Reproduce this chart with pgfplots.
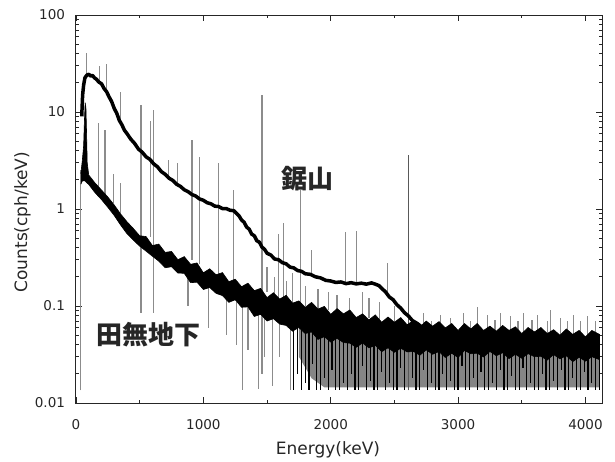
\documentclass[border=0pt]{standalone}
\usepackage{pgfplots}
\pgfplotsset{compat=1.18}
\usepackage{fontspec}
\setmainfont{DejaVu Sans}
\newfontfamily\cjk{Noto Sans CJK JP}
\begin{document}
\begin{tikzpicture}
\begin{axis}[
  scale only axis, width=526pt, height=388pt,
  xmin=0, xmax=4130, ymode=log, ymin=0.01, ymax=100,
  xtick={0,1000,2000,3000,4000}, xticklabels={0,1000,2000,3000,4000},
  minor xtick={500,1500,2500,3500},
  ytick={0.01,0.1,1,10,100}, yticklabels={0.01,0.1,1,10,100},
  minor ytick={0.02,0.03,0.04,0.05,0.06,0.07,0.08,0.09,0.2,0.3,0.4,0.5,0.6,0.7,0.8,0.9,2,3,4,5,6,7,8,9,20,30,40,50,60,70,80,90},
  tick align=inside, major tick length=6pt, minor tick length=3.5pt,
  axis line style={line width=1pt, black!85},
  every tick/.style={black!85, line width=0.8pt},
  tick label style={font=\fontsize{13.5}{16}\selectfont, text=black!85},
  xticklabel style={yshift=-12.5pt}, yticklabel style={xshift=-7.5pt},
  xlabel={Energy(keV)}, ylabel={Counts(cph/keV)},
  label style={font=\fontsize{17}{20}\selectfont, text=black!85},
  xlabel style={at={(axis description cs:0.479,-0.121)},anchor=center},
  ylabel style={at={(axis description cs:-0.1017,0.466)},anchor=center},
  unbounded coords=jump,
]
% gray under-band region
\addplot[fill=black!48, draw=none] coordinates {
(1750,0.065) (2000,0.05) (2400,0.045) (4110,0.04)
(4110,0.0145) (1950,0.0145) (1850,0.018) (1750,0.03)};
% gray peak / dip lines
\addplot[black!45, line width=1.2pt] table[row sep=\\] {
x y\\
84 24\\ 84 41\\ 84 nan\\
186 20\\ 186 30\\ 186 nan\\
238 16.5\\ 238 31\\ 238 nan\\
352 7.8\\ 352 16\\ 352 nan\\
511 0.085\\ 511 11.8\\ 511 nan\\
583 0.52\\ 583 8\\ 583 nan\\
609 0.085\\ 609 10.5\\ 609 nan\\
727 2.15\\ 727 3.2\\ 727 nan\\
795 1.8\\ 795 3.0\\ 795 nan\\
911 0.3\\ 911 5.1\\ 911 nan\\
969 0.27\\ 969 3.4\\ 969 nan\\
1120 0.21\\ 1120 3.0\\ 1120 nan\\
1238 0.18\\ 1238 1.57\\ 1238 nan\\
1461 0.02\\ 1461 15\\ 1461 nan\\
1588 0.11\\ 1588 0.55\\ 1588 nan\\
1630 0.1\\ 1630 0.72\\ 1630 nan\\
1764 0.09\\ 1764 1.57\\ 1764 nan\\
1847 0.21\\ 1847 0.38\\ 1847 nan\\
2118 0.173\\ 2118 0.58\\ 2118 nan\\
2204 0.171\\ 2204 0.6\\ 2204 nan\\
2448 0.13\\ 2448 0.28\\ 2448 nan\\
35 0.0135\\ 35 2.5\\ 35 nan\\
175 1.7\\ 175 7.7\\ 175 nan\\
228 1.4\\ 228 6.5\\ 228 nan\\
295 1.15\\ 295 2.3\\ 295 nan\\
352 0.92\\ 352 1.85\\ 352 nan\\
880 0.2\\ 880 0.1\\ 880 nan\\
1040 0.16\\ 1040 0.06\\ 1040 nan\\
1180 0.12\\ 1180 0.05\\ 1180 nan\\
1260 0.11\\ 1260 0.04\\ 1260 nan\\
1305 0.1\\ 1305 0.0135\\ 1305 nan\\
1350 0.1\\ 1350 0.035\\ 1350 nan\\
1431 0.085\\ 1431 0.014\\ 1431 nan\\
1480 0.08\\ 1480 0.03\\ 1480 nan\\
1540 0.075\\ 1540 0.015\\ 1540 nan\\
1600 0.07\\ 1600 0.03\\ 1600 nan\\
1682 0.062\\ 1682 0.0135\\ 1682 nan\\
1500 0.14\\ 1500 0.25\\ 1500 nan\\
1560 0.13\\ 1560 0.2\\ 1560 nan\\
1650 0.11\\ 1650 0.18\\ 1650 nan\\
1700 0.1\\ 1700 0.22\\ 1700 nan\\
1800 0.1\\ 1800 0.16\\ 1800 nan\\
1900 0.09\\ 1900 0.15\\ 1900 nan\\
1980 0.09\\ 1980 0.14\\ 1980 nan\\
2050 0.085\\ 2050 0.13\\ 2050 nan\\
2150 0.08\\ 2150 0.12\\ 2150 nan\\
2250 0.075\\ 2250 0.14\\ 2250 nan\\
2300 0.075\\ 2300 0.12\\ 2300 nan\\
2380 0.07\\ 2380 0.11\\ 2380 nan\\
2500 0.068\\ 2500 0.1\\ 2500 nan\\
2728 0.05\\ 2728 0.085\\ 2728 nan\\
2790 0.05\\ 2790 0.07\\ 2790 nan\\
2862 0.05\\ 2862 0.08\\ 2862 nan\\
2940 0.05\\ 2940 0.075\\ 2940 nan\\
3042 0.05\\ 3042 0.085\\ 3042 nan\\
3100 0.05\\ 3100 0.07\\ 3100 nan\\
3152 0.05\\ 3152 0.098\\ 3152 nan\\
3230 0.05\\ 3230 0.08\\ 3230 nan\\
3290 0.05\\ 3290 0.072\\ 3290 nan\\
3333 0.05\\ 3333 0.085\\ 3333 nan\\
3412 0.05\\ 3412 0.078\\ 3412 nan\\
3470 0.05\\ 3470 0.07\\ 3470 nan\\
3514 0.05\\ 3514 0.085\\ 3514 nan\\
3580 0.05\\ 3580 0.072\\ 3580 nan\\
3624 0.05\\ 3624 0.08\\ 3624 nan\\
3700 0.05\\ 3700 0.07\\ 3700 nan\\
3726 0.05\\ 3726 0.09\\ 3726 nan\\
3805 0.05\\ 3805 0.075\\ 3805 nan\\
3860 0.05\\ 3860 0.07\\ 3860 nan\\
3907 0.05\\ 3907 0.08\\ 3907 nan\\
3960 0.05\\ 3960 0.07\\ 3960 nan\\
4017 0.05\\ 4017 0.078\\ 4017 nan\\
4080 0.05\\ 4080 0.07\\ 4080 nan\\
};
\addplot[black!65, line width=1.1pt] table[row sep=\\] {
x y\\
2614 0.0135\\ 2614 3.6\\ 2614 nan\\
};
% black stripes below the band
\addplot[black, line width=1.2pt] table[row sep=\\] {
x y\\
1710 .065\\ 1710 .0135\\ 1710 nan\\
1740 .065\\ 1740 .02\\ 1740 nan\\
1770 .065\\ 1770 .0135\\ 1770 nan\\
1800 .065\\ 1800 .016\\ 1800 nan\\
1830 .065\\ 1830 .0135\\ 1830 nan\\
1860 .065\\ 1860 .025\\ 1860 nan\\
1890 .065\\ 1890 .0135\\ 1890 nan\\
1920 .065\\ 1920 .0135\\ 1920 nan\\
1950 .065\\ 1950 .018\\ 1950 nan\\
1980 .065\\ 1980 .0135\\ 1980 nan\\
2010 .05\\ 2010 .022\\ 2010 nan\\
2040 .05\\ 2040 .0135\\ 2040 nan\\
2070 .05\\ 2070 .0135\\ 2070 nan\\
2100 .05\\ 2100 .016\\ 2100 nan\\
2130 .05\\ 2130 .0135\\ 2130 nan\\
2160 .05\\ 2160 .02\\ 2160 nan\\
2190 .05\\ 2190 .0135\\ 2190 nan\\
2220 .05\\ 2220 .0135\\ 2220 nan\\
2250 .05\\ 2250 .024\\ 2250 nan\\
2280 .05\\ 2280 .0135\\ 2280 nan\\
2310 .05\\ 2310 .017\\ 2310 nan\\
2340 .05\\ 2340 .0135\\ 2340 nan\\
2370 .05\\ 2370 .0135\\ 2370 nan\\
2400 .045\\ 2400 .021\\ 2400 nan\\
2430 .045\\ 2430 .0135\\ 2430 nan\\
2460 .045\\ 2460 .016\\ 2460 nan\\
2490 .045\\ 2490 .0135\\ 2490 nan\\
2520 .045\\ 2520 .0135\\ 2520 nan\\
2550 .045\\ 2550 .023\\ 2550 nan\\
2580 .045\\ 2580 .0135\\ 2580 nan\\
2640 .045\\ 2640 .018\\ 2640 nan\\
2670 .045\\ 2670 .0135\\ 2670 nan\\
2700 .045\\ 2700 .0135\\ 2700 nan\\
2730 .045\\ 2730 .022\\ 2730 nan\\
2760 .045\\ 2760 .0135\\ 2760 nan\\
2790 .045\\ 2790 .016\\ 2790 nan\\
2820 .045\\ 2820 .0135\\ 2820 nan\\
2850 .045\\ 2850 .0135\\ 2850 nan\\
2880 .045\\ 2880 .02\\ 2880 nan\\
2910 .045\\ 2910 .0135\\ 2910 nan\\
2940 .045\\ 2940 .017\\ 2940 nan\\
2970 .045\\ 2970 .0135\\ 2970 nan\\
3000 .045\\ 3000 .0135\\ 3000 nan\\
3030 .045\\ 3030 .024\\ 3030 nan\\
3060 .045\\ 3060 .0135\\ 3060 nan\\
3090 .045\\ 3090 .0135\\ 3090 nan\\
3120 .045\\ 3120 .018\\ 3120 nan\\
3150 .045\\ 3150 .0135\\ 3150 nan\\
3180 .045\\ 3180 .021\\ 3180 nan\\
3210 .045\\ 3210 .0135\\ 3210 nan\\
3240 .045\\ 3240 .0135\\ 3240 nan\\
3270 .045\\ 3270 .016\\ 3270 nan\\
3300 .045\\ 3300 .0135\\ 3300 nan\\
3330 .045\\ 3330 .022\\ 3330 nan\\
3360 .045\\ 3360 .0135\\ 3360 nan\\
3390 .045\\ 3390 .0135\\ 3390 nan\\
3420 .045\\ 3420 .019\\ 3420 nan\\
3450 .045\\ 3450 .0135\\ 3450 nan\\
3480 .045\\ 3480 .0135\\ 3480 nan\\
3510 .045\\ 3510 .023\\ 3510 nan\\
3540 .045\\ 3540 .0135\\ 3540 nan\\
3570 .045\\ 3570 .016\\ 3570 nan\\
3600 .045\\ 3600 .0135\\ 3600 nan\\
3630 .045\\ 3630 .0135\\ 3630 nan\\
3660 .045\\ 3660 .02\\ 3660 nan\\
3690 .045\\ 3690 .0135\\ 3690 nan\\
3720 .045\\ 3720 .0135\\ 3720 nan\\
3750 .045\\ 3750 .017\\ 3750 nan\\
3780 .045\\ 3780 .0135\\ 3780 nan\\
3810 .045\\ 3810 .022\\ 3810 nan\\
3840 .045\\ 3840 .0135\\ 3840 nan\\
3870 .045\\ 3870 .0135\\ 3870 nan\\
3900 .045\\ 3900 .018\\ 3900 nan\\
3930 .045\\ 3930 .0135\\ 3930 nan\\
3960 .045\\ 3960 .0135\\ 3960 nan\\
3990 .045\\ 3990 .021\\ 3990 nan\\
4020 .045\\ 4020 .0135\\ 4020 nan\\
4050 .045\\ 4050 .016\\ 4050 nan\\
4080 .045\\ 4080 .0135\\ 4080 nan\\
4110 .045\\ 4110 .0135\\ 4110 nan\\
};
% lower spectrum (Tanashi underground): noisy band
\addplot[fill=black, draw=black, line width=0.6pt] coordinates {
(38,2.3) (50,3.2) (60,4.5) (66,8) (72,12.5) (78,11) (83,6) (88,3.0)
(100,2.24) (150,1.85) (200,1.57) (250,1.33) (300,1.10) (350,0.89) (400,0.74) (450,0.63)
(500,0.53) (550,0.52) (600,0.42) (650,0.435) (700,0.357) (750,0.365) (800,0.30) (850,0.323)
(900,0.269) (950,0.278) (1000,0.22) (1050,0.242) (1100,0.21) (1150,0.221) (1200,0.178) (1250,0.189)
(1300,0.158) (1350,0.172) (1400,0.144) (1450,0.152) (1500,0.122) (1550,0.137) (1600,0.118) (1650,0.129)
(1700,0.107) (1750,0.113) (1800,0.097) (1850,0.109) (1900,0.093) (1950,0.099) (2000,0.082) (2050,0.094)
(2100,0.083) (2150,0.091) (2200,0.076) (2250,0.083) (2300,0.072) (2350,0.081) (2400,0.068) (2450,0.077)
(2500,0.068) (2550,0.076) (2600,0.064) (2650,0.071) (2700,0.061) (2750,0.07) (2800,0.062) (2850,0.069)
(2900,0.0595) (2950,0.066) (3000,0.056) (3050,0.066) (3100,0.058) (3150,0.066) (3200,0.056) (3250,0.062)
(3300,0.055) (3350,0.063) (3400,0.056) (3450,0.061) (3500,0.052) (3550,0.06) (3600,0.054) (3650,0.06)
(3700,0.052) (3750,0.057) (3800,0.05) (3850,0.058) (3900,0.051) (3950,0.056) (4000,0.048) (4050,0.056) (4110,0.051)
(4110,0.028) (4050,0.030) (4000,0.027) (3950,0.0296) (3900,0.0267) (3850,0.0307) (3800,0.0285) (3750,0.0316)
(3700,0.0277) (3650,0.0303) (3600,0.03) (3550,0.0323) (3500,0.0289) (3450,0.0318) (3400,0.0287) (3350,0.033)
(3300,0.0307) (3250,0.034) (3200,0.0298) (3150,0.0326) (3100,0.0322) (3050,0.0348) (3000,0.0294) (2950,0.0326)
(2900,0.0295) (2850,0.0339) (2800,0.0318) (2750,0.0353) (2700,0.0311) (2650,0.034) (2600,0.0336) (2550,0.0367)
(2500,0.0333) (2450,0.0371) (2400,0.0338) (2350,0.0393) (2300,0.037) (2250,0.0416) (2200,0.0375) (2150,0.0414)
(2100,0.042) (2050,0.0464) (2000,0.0425) (1950,0.0483) (1900,0.0452) (1850,0.054) (1800,0.052) (1750,0.06)
(1700,0.055) (1650,0.063) (1600,0.065) (1550,0.074) (1500,0.07) (1450,0.082) (1400,0.078) (1350,0.098)
(1300,0.097) (1250,0.116) (1200,0.109) (1150,0.128) (1100,0.135) (1050,0.155) (1000,0.148) (950,0.176)
(900,0.174) (850,0.217) (800,0.219) (750,0.254) (700,0.248) (650,0.29) (600,0.326) (550,0.368)
(500,0.414) (450,0.478) (400,0.557) (350,0.684) (300,0.858) (250,1.04) (200,1.25) (150,1.47)
(100,1.79) (88,1.85) (70,1.95) (50,1.95) (38,1.8)};
% upper spectrum (Nokogiriyama) continuum
\addplot[black, line width=3.5pt, line join=round] coordinates {
(45,9) (52,15) (60,19) (70,22.5) (85,24) (100,24.5) (115,23.5) (130,23.8) (145,22.5) (160,21.8) (180,20.3) (200,19.6) (220,17.5) (240,16.2) (260,14.3) (280,12.8) (300,10.9) (320,9.7) (340,8.2) (360,7.4) (380,6.5) (400,6.0) (430,5.25) (460,4.75) (490,4.15) (520,3.85) (550,3.45) (580,3.25) (610,2.92) (640,2.72) (670,2.43) (700,2.28) (730,2.08) (760,1.97) (790,1.8) (820,1.71) (850,1.58) (880,1.51) (910,1.41) (940,1.36) (970,1.27) (1000,1.23) (1030,1.16) (1060,1.13) (1090,1.07) (1120,1.06) (1150,1.01) (1180,1.01) (1210,0.97) (1240,0.96) (1260,0.9) (1280,0.85) (1300,0.77) (1320,0.73) (1340,0.65) (1360,0.62) (1380,0.55) (1400,0.53) (1420,0.47) (1440,0.455) (1460,0.405) (1480,0.385) (1500,0.35) (1530,0.335) (1560,0.305) (1590,0.3) (1620,0.28) (1650,0.272) (1680,0.252) (1710,0.247) (1740,0.232) (1770,0.228) (1800,0.215) (1840,0.212) (1880,0.2) (1920,0.195) (1960,0.184) (2000,0.181) (2040,0.175) (2080,0.177) (2120,0.17) (2160,0.174) (2200,0.169) (2240,0.172) (2280,0.168) (2320,0.173) (2350,0.168) (2380,0.162) (2400,0.152) (2430,0.14) (2460,0.124) (2490,0.116) (2520,0.103) (2550,0.095) (2580,0.085) (2610,0.079) (2640,0.071) (2680,0.066) (2720,0.06) (2760,0.057)};
\node[font={\fontsize{26}{30}\selectfont\cjk\bfseries}, text=black!85] at (axis cs:1816,2.04) {鋸山};
\node[font={\fontsize{26}{30}\selectfont\cjk\bfseries}, text=black!85] at (axis cs:566,0.0502) {田無地下};
\end{axis}
\pgfresetboundingbox
\path ([xshift=-76pt,yshift=-59pt]current axis.south west) rectangle ([xshift=13pt,yshift=15pt]current axis.north east);
\end{tikzpicture}
\end{document}
